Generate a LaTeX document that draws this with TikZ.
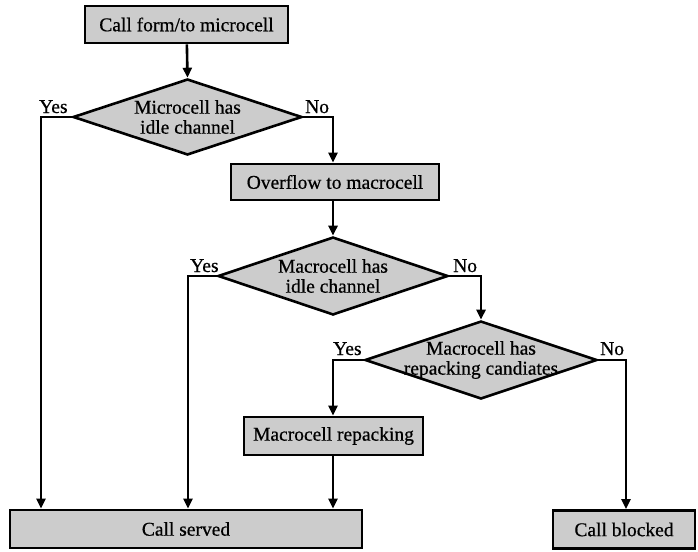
\documentclass[tikz,border=0pt]{standalone}
\usepackage{fontspec}
\setmainfont[FakeBold=0.6]{Liberation Serif}
\usetikzlibrary{shapes.geometric,arrows.meta}
\begin{document}
\begin{tikzpicture}[x=1pt,y=-1pt,
  every node/.style={font=\fontsize{19.5}{20}\selectfont},
  stepbox/.style={draw, line width=2.8pt, fill=gray!40, rectangle, inner sep=0pt},
  decision/.style={draw, line width=2.6pt, fill=gray!40, diamond, inner sep=0pt},
  dtext/.style={align=center, inner sep=0pt},
  flow/.style={line width=2.6pt, -{Triangle[length=10pt,width=9pt]}},
  lbl/.style={inner sep=0pt}]
\useasboundingbox (0,0) rectangle (698,551);

% process boxes
\node[stepbox, minimum width=203pt, minimum height=37pt] (start) at (186.5,24.5) {Call form/to microcell};
\node[stepbox, minimum width=208pt, minimum height=36pt] (over) at (335,182) {Overflow to macrocell};
\node[stepbox, minimum width=179pt, minimum height=38pt] (rep) at (333.5,436) {Macrocell repacking};
\node[stepbox, minimum width=352pt, minimum height=38pt] (served) at (186,529) {Call served};
\node[stepbox, minimum width=142pt, minimum height=38pt] (blocked) at (624,529.5) {Call blocked};

% decisions: fixed-size diamonds with their questions set on top
\node[decision, minimum width=229pt, minimum height=76pt] (d1) at (187.5,117) {};
\node[dtext] (d1t) at (d1.center) {Microcell has\\idle channel};
\node[decision, minimum width=230pt, minimum height=78pt] (d2) at (333,276) {};
\node[dtext] (d2t) at (d2.center) {Macrocell has\\idle channel};
\node[decision, minimum width=232pt, minimum height=78pt] (d3) at (481,360) {};
\node[dtext] (d3t) at (d3.center) {Macrocell has\\repacking candiates};

% branch columns
\coordinate (c1) at (41,0);
\coordinate (c2) at (188,0);
\coordinate (c3) at (333,0);
\coordinate (c4) at (626,0);

% connectors
\draw[flow] (start) -- (d1.north);
\draw[flow] (d1.west) -| (c1 |- served.north);
\draw[flow] (d1.east) -| (c3 |- over.north);
\draw[flow] (over.south -| c3) -- (d2.north);
\draw[flow] (d2.west) -| (c2 |- served.north);
\draw[flow] (d2.east) -| (d3.north);
\draw[flow] (d3.west) -| (c3 |- rep.north);
\draw[flow] (rep.south -| c3) -- (c3 |- served.north);
\draw[flow] (d3.east) -| (c4 |- blocked.north);

% branch labels
\node[lbl, anchor=base west] (y1) at (39,113) {Yes};
\node[lbl, anchor=base west] (n1) at (305,113) {No};
\node[lbl, anchor=base west] (y2) at (190,272) {Yes};
\node[lbl, anchor=base west] (n2) at (453,272) {No};
\node[lbl, anchor=base west] (y3) at (333,355) {Yes};
\node[lbl, anchor=base west] (n3) at (600,355) {No};
\end{tikzpicture}
\end{document}
